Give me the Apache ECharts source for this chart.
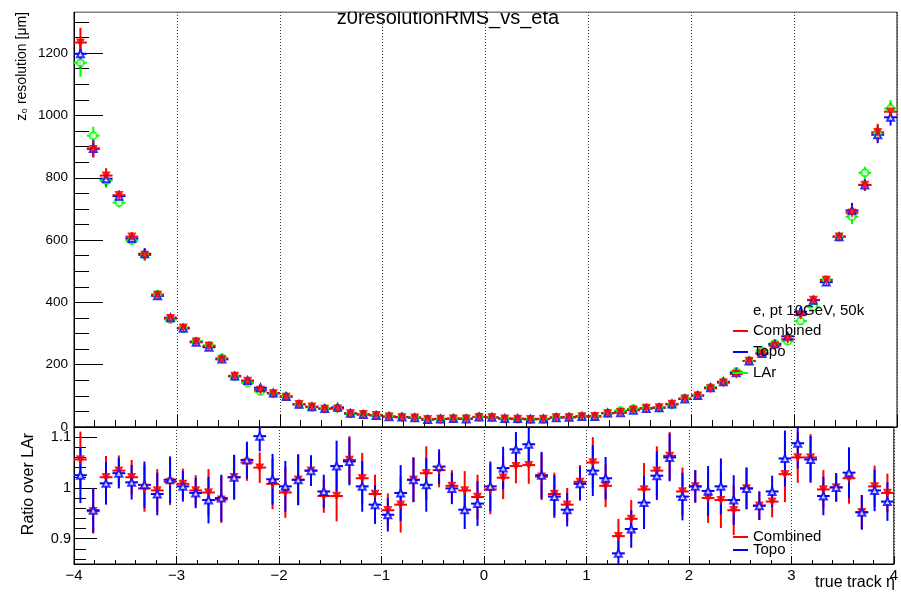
<!DOCTYPE html>
<html>
<head>
<meta charset="utf-8">
<title>z0resolutionRMS_vs_eta</title>
<script src="https://cdn.jsdelivr.net/npm/echarts@6/dist/echarts.min.js"></script>
<style>
  html, body { margin: 0; padding: 0; background: #fff; }
  #chart { width: 901px; height: 593px; }
</style>
</head>
<body>
<div id="chart"></div>
<script>
// bins: 64 bins of 0.125 in eta, from -4 to 4
var etaMin = -4;
var binWidth = 0.125;

// z0 resolution [um] per bin
var combined = [1234,892,807,744,611,552,424,349,319,274, 260,217,164,148,119,108,97,73,65,58,
    59,44,41,38,33,31,30,25,26,27, 27,32,31,27,26,25,26,31,31,34,
    35,44,48,55,61,63,74,91,101,124, 142,170,212,236,261,282,360,408,472,611,
    688,777,946,1012];
var topo = [1198,894,797,741,605,556,421,351,317,272, 256,218,164,149,126,109,98,73,65,59,
    63,44,40,37,33,32,30,24,26,27, 26,32,31,27,27,26,26,30,31,34,
    34,45,46,54,59,62,74,90,101,126, 145,174,212,236,266,291,370,407,465,611,
    695,777,938,994];
var lar = [1169,935,790,720,598,553,426,345,316,275, 262,222,161,141,114,107,98,72,63,59,
    60,42,40,38,35,32,30,24,25,27, 27,33,31,26,25,24,25,31,32,34,
    33,44,53,59,61,61,70,92,101,127, 145,178,212,245,268,275,340,385,473,610,
    675,816,943,1022];

// ratio over LAr
var ratioCombined = [1.056,0.954,1.021,1.034,1.021,0.999,0.995,1.012,1.008,0.995,
    0.991,0.977,1.021,1.050,1.040,1.008,0.991,1.016,1.034,0.984,
    0.984,1.055,1.019,0.988,0.956,0.967,1.016,1.029,1.035,1.004,
    0.995,0.982,0.997,1.020,1.043,1.045,1.022,0.988,0.967,1.012,
    1.050,1.004,0.905,0.939,0.997,1.034,1.063,0.993,1.003,0.980,
    0.976,0.956,0.999,0.965,0.973,1.027,1.060,1.060,0.997,1.001,
    1.019,0.952,1.003,0.990];
var ratioTopo = [1.025,0.956,1.009,1.029,1.011,1.006,0.988,1.016,1.003,0.990,
    0.976,0.980,1.021,1.055,1.102,1.017,1.003,1.016,1.034,0.993,
    1.043,1.052,1.003,0.967,0.947,0.990,1.016,1.006,1.042,0.999,
    0.957,0.969,1.003,1.039,1.076,1.086,1.025,0.983,0.957,1.008,
    1.034,1.019,0.871,0.919,0.971,1.024,1.060,0.983,1.003,0.994,
    1.003,0.976,0.999,0.965,0.993,1.058,1.088,1.056,0.984,1.001,
    1.030,0.952,0.995,0.973];
// error on the ratio (half length of the bar)
var ratioErr = [0.055,0.044,0.042,0.030,0.034,0.046,0.042,0.046,0.030,0.030,
    0.046,0.046,0.044,0.036,0.030,0.050,0.050,0.050,0.030,0.033,
    0.050,0.047,0.050,0.038,0.033,0.055,0.044,0.053,0.034,0.031,
    0.038,0.044,0.049,0.042,0.034,0.037,0.046,0.042,0.033,0.033,
    0.050,0.042,0.034,0.037,0.052,0.048,0.047,0.047,0.032,0.049,
    0.055,0.049,0.041,0.028,0.031,0.055,0.050,0.046,0.038,0.028,
    0.050,0.034,0.041,0.038];

// tick values
var topMajor = [0,200,400,600,800,1000,1200];
var topMinor = [50,100,150,250,300,350,450,500,550,650,700,750,850,900,950,1050,1100,1150,1250,1300];
var ratioMajor = [0.9,1,1.1];
var ratioMinor = [0.86,0.88,0.92,0.94,0.96,0.98,1.02,1.04,1.06,1.08,1.12];

var FONT = '"Liberation Sans", Arial, Helvetica, sans-serif';
var RED = '#ff0000', BLUE = '#0000ff', GREEN = '#00ff00';

// [eta, value, error]
function points(vals, errs, scale){
    var out = [];
    for (var i = 0; i < vals.length; i++) {
        var x = etaMin + binWidth * (i + 0.5);
        out.push([x, vals[i], errs[i] * scale * (scale === 1 ? 1 : vals[i])]);
    }
    return out;
}

// error bar drawing: vertical error + horizontal bin width
function errorBars(color){
    return function(params, api){
        var x = api.value(0), y = api.value(1), e = api.value(2);
        var c = api.coord([x, y]);
        var lo = api.coord([x, y - e]);
        var hi = api.coord([x, y + e]);
        var l = api.coord([x - binWidth / 2, y]);
        var r = api.coord([x + binWidth / 2, y]);
        return {
            type: 'group',
            children: [
                {type: 'line', shape: {x1: c[0], y1: lo[1], x2: c[0], y2: hi[1]}, style: {stroke: color, lineWidth: 2}},
                {type: 'line', shape: {x1: l[0], y1: c[1], x2: r[0], y2: c[1]}, style: {stroke: color, lineWidth: 2}}
            ]
        };
    };
}

function errSeries(name, data, color, xi, yi){
    return {name: name, type: 'custom', xAxisIndex: xi, yAxisIndex: yi, data: data,
        renderItem: errorBars(color), clip: true, silent: true, z: 2};
}
function markSeries(name, data, color, symbol, rotate, xi, yi, z){
    return {name: name, type: 'scatter', xAxisIndex: xi, yAxisIndex: yi, data: data,
        symbol: symbol, symbolRotate: rotate, symbolSize: 7, clip: true, silent: true, z: z,
        itemStyle: {color: color, borderColor: color, borderWidth: 1.3}};
}

function txt(text, x, y, size, align, valign, extra){
    var o = {type: 'text', x: x, y: y, z: 100, silent: true,
        style: {text: text, x: 0, y: 0, fontSize: size, fontFamily: FONT, fill: '#000',
            textAlign: align, align: align, textVerticalAlign: valign, verticalAlign: valign}};
    if (extra) { for (var k in extra) o[k] = extra[k]; }
    return o;
}
function legLine(x1, x2, y, color){
    return {type: 'line', z: 100, silent: true, shape: {x1: x1, y1: y, x2: x2, y2: y}, style: {stroke: color, lineWidth: 2}};
}

var dLar = points(lar, ratioErr, 0.7);
var dTopo = points(topo, ratioErr, 0.7);
var dComb = points(combined, ratioErr, 0.7);
var rComb = points(ratioCombined, ratioErr, 1);
var rTopo = points(ratioTopo, ratioErr, 1);

var xAxisBase = function(grid, showLabel, major, minor){
    return {
        type: 'value', gridIndex: grid, min: -4, max: 4, interval: 1,
        axisLine: {show: true, onZero: false, lineStyle: {color: '#000', width: 1}},
        axisTick: {show: true, inside: true, length: major, lineStyle: {color: '#000'}},
        minorTick: {show: true, splitNumber: 5, length: minor, lineStyle: {color: '#000'}},
        splitLine: {show: true, lineStyle: {color: '#333', type: [1, 2], width: 1}},
        axisLabel: {show: showLabel, color: '#000', fontSize: 15, fontFamily: FONT, margin: 4,
            formatter: function(v){ return String(v).replace('-', '\u2212'); }}
    };
};

// y axis: one for major ticks + labels, one for minor ticks only
var yAxisBase = function(grid, min, max, ticks, len, labels, size, margin){
    return {
        type: 'value', gridIndex: grid, min: min, max: max, position: 'left', offset: 0,
        axisLine: {show: labels, onZero: false, lineStyle: {color: '#000'}},
        axisTick: {show: true, inside: true, length: len, customValues: ticks, lineStyle: {color: '#000'}},
        axisLabel: {show: labels, customValues: ticks, color: '#000', fontSize: size, fontFamily: FONT, margin: margin,
            formatter: function(v){ return String(v); }},
        splitLine: {show: false}
    };
};

var myChart = echarts.init(document.getElementById('chart'), null, {renderer: 'canvas'});

var option = {
    animation: false,
    backgroundColor: '#fff',
    grid: [
        {left: 74, top: 12, width: 823, height: 415, show: true, borderColor: '#000', borderWidth: 1, backgroundColor: 'transparent'},
        {left: 74, top: 427, width: 823, height: 137, show: true, borderColor: '#000', borderWidth: 1, backgroundColor: 'transparent'}
    ],
    xAxis: [
        xAxisBase(0, false, 12, 7),
        xAxisBase(1, true, 8, 4)
    ],
    yAxis: [
        yAxisBase(0, 0, 1332, topMajor, 29, true, 13.5, 6),
        yAxisBase(0, 0, 1332, topMinor, 15, false, 13.5, 6),
        yAxisBase(1, 0.85, 1.12, ratioMajor, 23, true, 14.5, 3),
        yAxisBase(1, 0.85, 1.12, ratioMinor, 12, false, 14.5, 3)
    ],
    series: [
        // top pad
        errSeries('LAr', dLar, GREEN, 0, 0),
        markSeries('LAr', dLar, GREEN, 'emptyCircle', 0, 0, 0, 3),
        errSeries('Topo', dTopo, BLUE, 0, 0),
        markSeries('Topo', dTopo, BLUE, 'emptyTriangle', 0, 0, 0, 4),
        errSeries('Combined', dComb, RED, 0, 0),
        markSeries('Combined', dComb, RED, 'triangle', 180, 0, 0, 5),
        // ratio pad
        errSeries('Combined', rComb, RED, 1, 2),
        markSeries('Combined', rComb, RED, 'triangle', 180, 1, 2, 3),
        errSeries('Topo', rTopo, BLUE, 1, 2),
        markSeries('Topo', rTopo, BLUE, 'emptyTriangle', 0, 1, 2, 4)
    ],
    graphic: [
        txt('z0resolutionRMS_vs_eta', 448, 18, 20, 'center', 'middle'),
        // title is cut by the pad edge
        {type: 'rect', z: 101, silent: true, shape: {x: 0, y: 0, width: 901, height: 11.5}, style: {fill: '#fff'}},
        txt('z\u2080 resolution [\u03bcm]', 22, 12, 14, 'right', 'middle', {rotation: Math.PI / 2}),
        txt('Ratio over LAr', 29, 484, 16, 'center', 'middle', {rotation: Math.PI / 2}),
        txt('true track \u03b7', 895, 583, 16, 'right', 'middle'),
        // top legend
        txt('e, pt 10GeV, 50k', 753, 311, 15, 'left', 'middle'),
        legLine(733, 748, 331, RED),
        txt('Combined', 753, 331, 15, 'left', 'middle'),
        legLine(733, 748, 352, BLUE),
        txt('Topo', 753, 352, 15, 'left', 'middle'),
        legLine(733, 748, 373, GREEN),
        txt('LAr', 753, 373, 15, 'left', 'middle'),
        // ratio legend
        legLine(733, 748, 537, RED),
        txt('Combined', 753, 537, 15, 'left', 'middle'),
        legLine(733, 748, 550, BLUE),
        txt('Topo', 753, 550, 15, 'left', 'middle')
    ]
};

myChart.setOption(option);
</script>
</body>
</html>
